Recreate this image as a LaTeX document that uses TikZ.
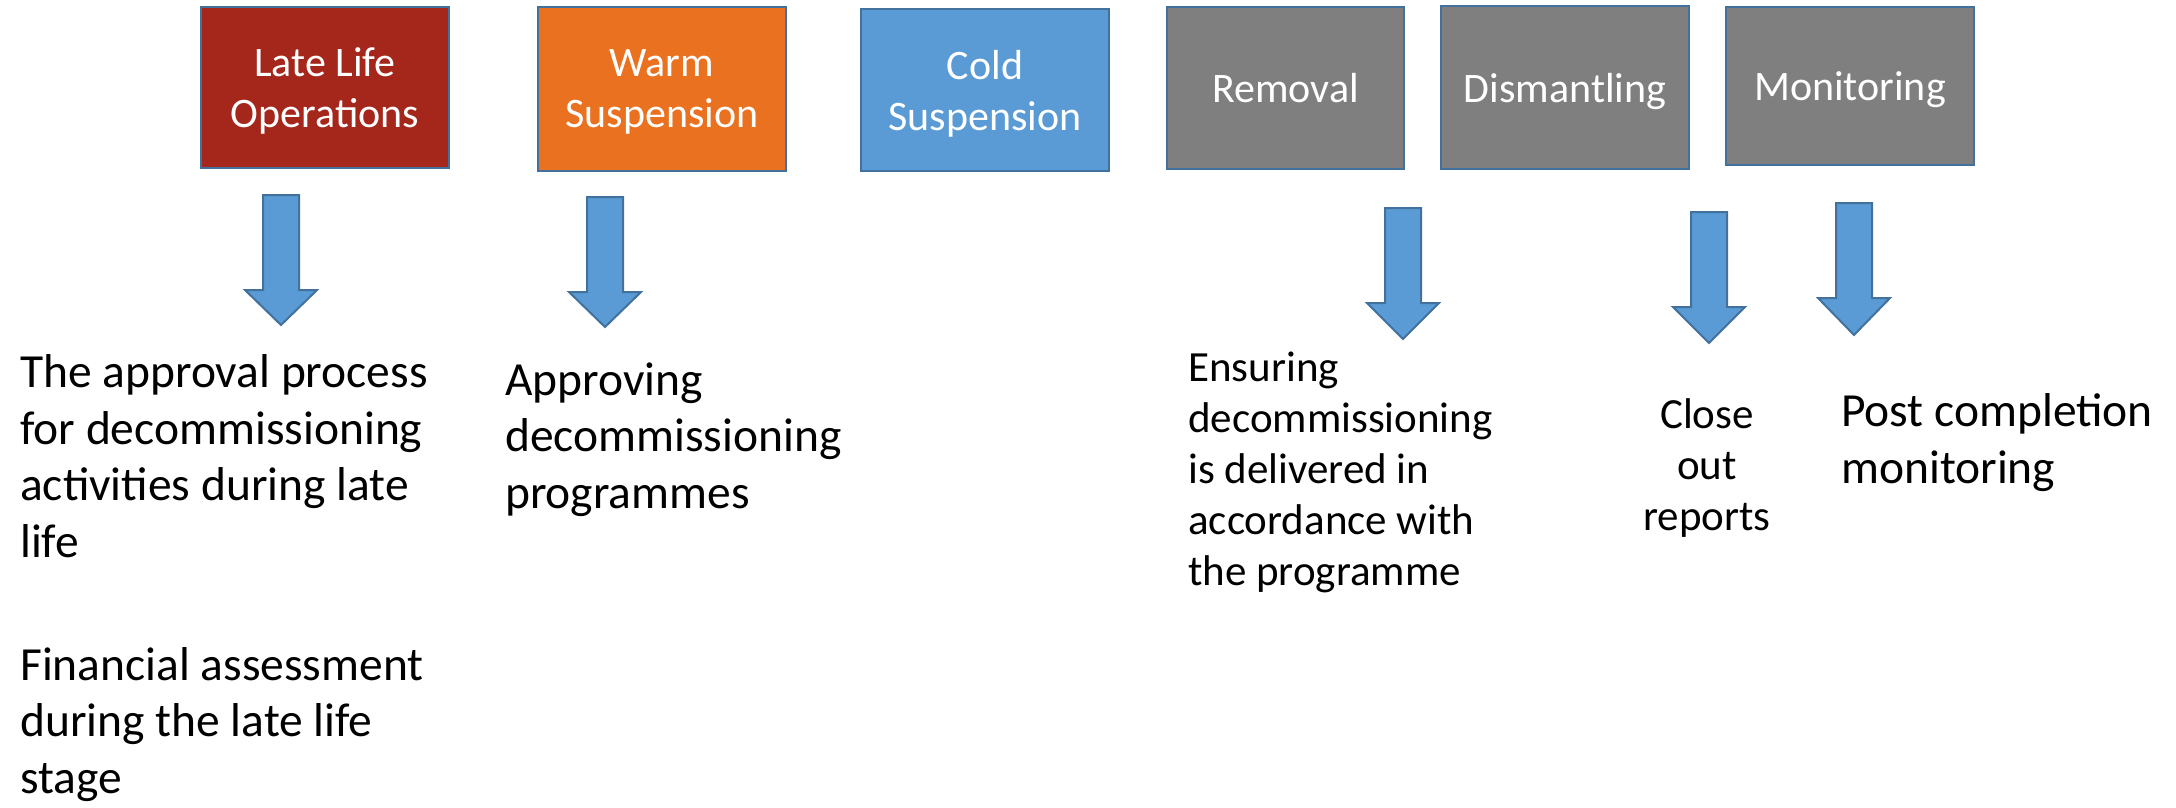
\documentclass[tikz,border=0pt]{standalone}
\usepackage{fontspec}
\setmainfont{Carlito}
\usepackage{tikz}
\usetikzlibrary{positioning}

\definecolor{latered}{RGB}{165,39,28}
\definecolor{warmorange}{RGB}{233,113,32}
\definecolor{coldblue}{RGB}{91,155,213}
\definecolor{phasegray}{RGB}{127,127,127}
\definecolor{edgeblue}{RGB}{65,113,156}

\tikzset{
	phase/.style={draw=edgeblue,line width=2.5pt,text=white,align=center,
		minimum width=248pt,minimum height=162pt,inner sep=0pt,text depth=0pt,
		font=\fontsize{42}{51}\selectfont},
	blockarrow/.style={draw=edgeblue,line width=2pt,fill=coldblue,line join=miter},
	bigtext/.style={anchor=base west,align=left,inner sep=0pt,font=\fontsize{47.5}{56.5}\selectfont},
	smalltext/.style={anchor=base west,align=left,inner sep=0pt,font=\fontsize{43}{51}\selectfont}
}

\begin{document}
\begin{tikzpicture}[x=1pt,y=-1pt]
	\useasboundingbox (0,0) rectangle (2176,807);
	% stages
	\node (late) [phase,fill=latered,minimum height=161pt] at (325,87.5) {Late Life\\Operations};
	\node (warm) [phase,fill=warmorange,minimum height=164pt] at (662,89) {Warm\\Suspension};
	\node (cold) [phase,fill=coldblue] at (985,90) {Cold\\Suspension};
	\node (removal) [phase,fill=phasegray,minimum width=237pt] at (1285.5,88) {Removal};
	\node (dismantling) [phase,fill=phasegray,minimum height=163pt] at (1565,87.5) {Dismantling};
	\node (monitoring) [phase,fill=phasegray,minimum height=158pt] at (1850,86) {Monitoring};
	% arrows
	\foreach \x/\t/\h/\b in {281/195/290/325, 605/197/292/327, 1403/208/303/339, 1709/212/307/343, 1854/203/298/335}
		\draw[blockarrow] (\x-18,\t) -- (\x+18,\t) -- (\x+18,\h) -- (\x+36,\h) -- (\x,\b)
			-- (\x-36,\h) -- (\x-18,\h) -- cycle;
	% texts (anchored at the last line)
	\node (approval) [bigtext] at (20,557) {The approval process\\for decommissioning\\activities during late\\life};
	\node (financial) [bigtext] at (20,793) {Financial assessment\\during the late life\\stage};
	\node (approving) [bigtext] at (505,508) {Approving\\decommissioning\\programmes};
	\node (ensuring) [smalltext] at (1188,585) {Ensuring\\decommissioning\\is delivered in\\accordance with\\the programme};
	\node (closeout) [smalltext,anchor=base,align=center] at (1707,530) {Close\\out\\reports};
	\node (post) [bigtext] at (1841,483) {Post completion\\monitoring};
\end{tikzpicture}
\end{document}
